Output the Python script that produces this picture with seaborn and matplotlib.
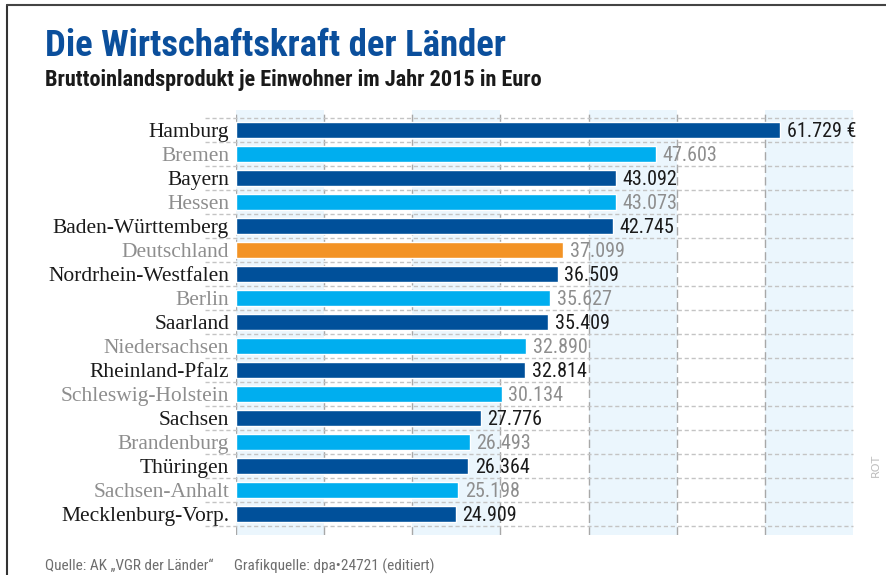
import matplotlib
matplotlib.use("Agg")
import matplotlib.pyplot as plt
from matplotlib import font_manager
import seaborn as sns
import pandas as pd

laender = ["Hamburg", "Bremen", "Bayern", "Hessen", "Baden-Württemberg", "Deutschland",
           "Nordrhein-Westfalen", "Berlin", "Saarland", "Niedersachsen", "Rheinland-Pfalz",
           "Schleswig-Holstein", "Sachsen", "Brandenburg", "Thüringen", "Sachsen-Anhalt",
           "Mecklenburg-Vorp."]
bip = [61729, 47603, 43092, 43073, 42745, 37099, 36509, 35627, 35409, 32890, 32814,
       30134, 27776, 26493, 26364, 25198, 24909]
gruppe = ["a", "b", "a", "b", "a", "d", "a", "b", "a", "b", "a", "b", "a", "b", "a", "b", "a"]
xticks = [0, 10000, 20000, 30000, 40000, 50000, 60000, 70000]

farben = {"a": "#00509a", "b": "#00aeef", "d": "#f39325"}
textfarben = {"a": "#1a1a1a", "b": "#8e8e8e", "d": "#8e8e8e"}

sns.set_style("white")
avail = {f.name for f in font_manager.fontManager.ttflist}
def pick(cands):
    for c in cands:
        if c in avail:
            return c
    return "DejaVu Sans"
narrow = pick(["Liberation Sans Narrow", "Roboto Condensed", "Open Sans Condensed", "Liberation Sans"])
serif = pick(["Liberation Serif", "DejaVu Serif"])
plt.rcParams["font.family"] = [narrow, "DejaVu Sans"]

df = pd.DataFrame({"land": laender, "wert": bip, "gruppe": gruppe})

fig = plt.figure(figsize=(8.87, 5.75), dpi=100)
ax = fig.add_axes([236 / 887, 1 - 535 / 575, 617 / 887, 425 / 575])

sns.barplot(data=df, x="wert", y="land", hue="gruppe", palette=farben, dodge=False,
            width=0.7, ax=ax, legend=False, saturation=1, zorder=3)

ax.set_xlim(0, 70000)
ax.set_ylim(16.875, -0.833)

for i in range(0, 7, 2):
    ax.axvspan(xticks[i], xticks[i + 1], color="#ebf6fd", zorder=0, lw=0)
for x in xticks[:-1]:
    ax.axvline(x, color="#a8a8a8", ls=(0, (6, 3)), lw=1, zorder=1)
for k in range(18):
    ax.plot([-3500, 70000], [k - 0.5, k - 0.5], color="#c4c4c4", ls=(0, (3, 2)), lw=1,
            zorder=1, clip_on=False)

ax.set_yticks(range(len(laender)))
ax.set_yticklabels(laender, fontfamily=serif, fontsize=15.5)
for lbl, g in zip(ax.get_yticklabels(), gruppe):
    lbl.set_color(textfarben[g])
ax.tick_params(axis="y", length=0, pad=5)
ax.set_xticks([])
ax.set_xlabel("")
ax.set_ylabel("")
for s in ax.spines.values():
    s.set_visible(False)

for i, (v, g) in enumerate(zip(bip, gruppe)):
    t = f"{v:,}".replace(",", ".")
    if i == 0:
        t += " €"
    ax.text(v + 750, i + 0.05, t, va="center", ha="left", fontsize=14.5,
            color=textfarben[g], zorder=4)

fig.text(45 / 887, 1 - 46 / 575, "Die Wirtschaftskraft der Länder", fontsize=26.5,
         fontweight="bold", color="#0b4f9c", va="center", ha="left")
fig.text(45 / 887, 1 - 80 / 575, "Bruttoinlandsprodukt je Einwohner im Jahr 2015 in Euro",
         fontsize=16, fontweight="bold", color="#1a1a1a", va="center", ha="left")
fig.text(45 / 887, 1 - 566 / 575, "Quelle: AK „VGR der Länder“", fontsize=11,
         color="#6e6e6e", va="center", ha="left")
fig.text(234 / 887, 1 - 566 / 575, "Grafikquelle: dpa•24721 (editiert)", fontsize=11,
         color="#6e6e6e", va="center", ha="left")
fig.text(876 / 887, 1 - 465 / 575, "ROT", fontsize=8, color="#bdbdbd", rotation=90,
         va="center", ha="center", family="DejaVu Sans")

fig.add_artist(plt.Line2D([7 / 887, 7 / 887], [0, 1 - 5 / 575], color="#333333", lw=1.5,
                          transform=fig.transFigure))
fig.add_artist(plt.Line2D([7 / 887, 1], [1 - 5 / 575, 1 - 5 / 575], color="#444444", lw=1.5,
                          transform=fig.transFigure))

fig.savefig("out.png", dpi=100)
